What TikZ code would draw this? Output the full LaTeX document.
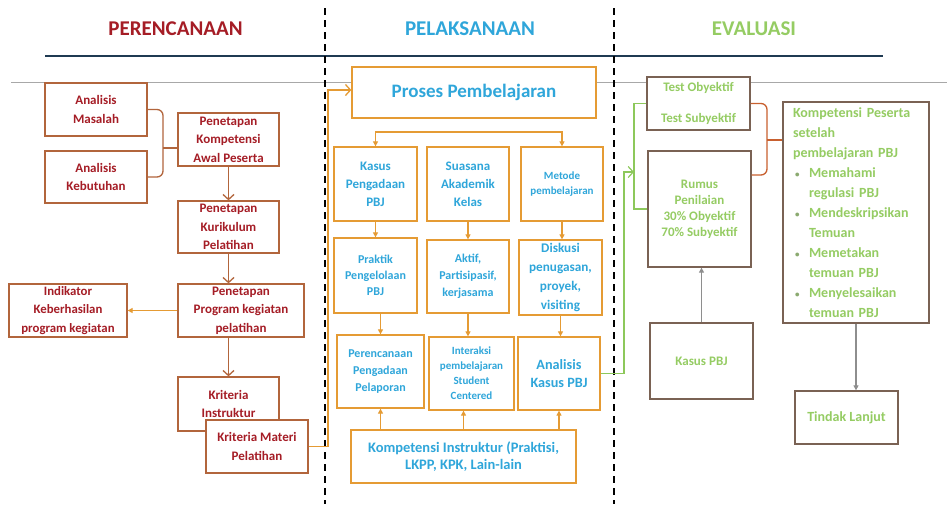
\documentclass[tikz,border=0pt]{standalone}
\usepackage{fontspec}
\setmainfont{Carlito}
\usetikzlibrary{arrows.meta,calc}
\newcommand\fsz[2]{\fontsize{#1}{#2}\selectfont\bfseries}
\newcommand\bul{\makebox[16pt][l]{\hspace{2pt}\textcolor{rtc!55!gray}{\fontsize{9}{9}\selectfont\textbullet}}}
\definecolor{lbc}{HTML}{B2653C}
\definecolor{ltc}{HTML}{A51D26}
\definecolor{obc}{HTML}{E59B34}
\definecolor{otc}{HTML}{2FA6DA}
\definecolor{rbc}{HTML}{7A6254}
\definecolor{rtc}{HTML}{95CC63}
\definecolor{grl}{HTML}{8DC85B}
\definecolor{brc}{HTML}{C8602F}
\definecolor{gra}{HTML}{8E8E8E}
\definecolor{navy}{HTML}{1F3A52}
\definecolor{lgr}{HTML}{A8A8A8}
\tikzset{
  sz/.style n args={2}{minimum width=#1pt, minimum height=#2pt},
  bx/.style={draw, fill=white, line width=1.3pt, inner sep=0pt, align=center},
  lb/.style={bx, draw=lbc, text=ltc, font=\fsz{13}{18.5}},
  ob/.style={bx, draw=obc, text=otc},
  rb/.style={bx, draw=rbc, text=rtc},
  larr/.style={draw=lbc, line width=1.3pt, -{Straight Barb[length=5pt,width=11pt]}},
  oarr/.style={draw=obc, line width=1.1pt, -{Triangle[length=5pt,width=5pt]}},
  oline/.style={draw=obc, line width=1.3pt},
  gline/.style={draw=grl, line width=1.2pt},
  garr/.style={draw=gra, line width=1.1pt, -{Triangle[length=5pt,width=5pt]}},
  ttl/.style={font=\fsz{21}{24}},
  dsh/.style={draw=black, line width=1.2pt, dash pattern=on 7pt off 5pt},
}
\begin{document}
\begin{tikzpicture}[x=1pt,y=-1pt]
\useasboundingbox (0,0) rectangle (947,504);
\fill[white] (0,0) rectangle (947,504);
% headers
\node[ttl, text=ltc] (t1) at (175.5,28.5) {PERENCANAAN};
\node[ttl, text=otc] (t2) at (470,28.5) {PELAKSANAAN};
\node[ttl, text=rtc] (t3) at (754,28.5) {EVALUASI};
\coordinate (nl1) at (45,56); \coordinate (nl2) at (883,56);
\draw[navy, line width=2pt] (nl1) -- (nl2);
\coordinate (gl1) at (11,82); \coordinate (gl2) at (947,82);
\draw[lgr, line width=1pt] (gl1) -- (gl2);
\coordinate (d1a) at (325,8); \coordinate (d1b) at (325,504);
\coordinate (d2a) at (614,8); \coordinate (d2b) at (614,504);
\draw[dsh] (d1a) -- (d1b);
\draw[dsh] (d2a) -- (d2b);

% left column
\node[lb, sz={102}{53}] (am) at (96,109.5) {Analisis\\Masalah};
\node[lb, sz={102}{52}] (ak) at (96,177) {Analisis\\Kebutuhan};
\node[lb, sz={101}{53}] (pk) at (228.5,139.5) {Penetapan\\Kompetensi\\Awal Peserta};
\node[lb, sz={101}{52}] (pku) at (228.5,227) {Penetapan\\Kurikulum\\Pelatihan};
\node[lb, sz={126}{53}] (pp) at (241,310.5) {Penetapan\\Program kegiatan\\pelatihan};
\node[lb, sz={118}{53}, font=\fsz{12.8}{18.5}] (ind) at (68,310.5) {Indikator\\Keberhasilan\\program kegiatan};
\node[lb, sz={101}{54}] (kin) at (228.5,404) {Kriteria\\Instruktur};
\node[lb, sz={102}{53}] (kma) at (257,446.5) {Kriteria Materi\\Pelatihan};

\coordinate (bl) at (163,148);
\draw[lbc, line width=1.3pt, rounded corners=6pt] (am.east) -| (bl) |- (ak.east);
\draw[lbc, line width=1.3pt] (bl) -- (bl -| pk.west);
\draw[larr] (pk.south) -- (pku.north);
\draw[larr] (pku.south) -- (pku.south |- pp.north);
\draw[larr] (kin.north |- pp.south) -- (kin.north);
\draw[draw=obc, line width=1pt, -{Triangle[length=5pt,width=5pt]}] (pp.west) -- (ind.east);

% middle column
\node[ob, sz={244}{51}, font=\fsz{19}{22}] (pr) at (474,92.5) {Proses Pembelajaran};
\node[ob, sz={83}{74}, font=\fsz{13}{18}] (kp) at (375.5,184) {Kasus\\Pengadaan\\PBJ};
\node[ob, sz={82}{74}, font=\fsz{13}{18}] (sa) at (468,184) {Suasana\\Akademik\\Kelas};
\node[ob, sz={82}{74}, font=\fsz{11}{15}] (mp) at (562,184) {Metode\\pembelajaran};
\node[ob, sz={83}{75}, font=\fsz{12}{16}] (pg) at (375.5,275.5) {Praktik\\Pengelolaan\\PBJ};
\node[ob, sz={82}{73}, font=\fsz{12}{17}] (af) at (468,276.5) {Aktif,\\Partisipasif,\\kerjasama};
\node[ob, sz={83}{75}, font=\fsz{13.2}{18.7}] (dk) at (560.5,277.5) {Diskusi\\penugasan,\\proyek,\\visiting};
\node[ob, sz={87}{73}, font=\fsz{12}{17}] (pe) at (380.5,371.5) {Perencanaan\\Pengadaan\\Pelaporan};
\node[ob, sz={85}{73}, font=\fsz{11}{15}] (ia) at (471.5,373.5) {Interaksi\\pembelajaran\\Student\\Centered};
\node[ob, sz={82}{73}, font=\fsz{14.2}{18}] (ap) at (559,373.5) {Analisis\\Kasus PBJ};
\node[ob, sz={225}{53}, font=\fsz{14.5}{17}] (ki) at (463.5,456.5) {Kompetensi Instruktur (Praktisi,\\LKPP, KPK, Lain-lain};

\coordinate (bh) at (470,132);
\draw[draw=obc, line width=1.1pt, {Triangle[length=5pt,width=5pt]}-{Triangle[length=5pt,width=5pt]}] (kp.north) |- (bh) -| (mp.north);
\draw[oarr] (kp.south) -- (pg.north);
\draw[oarr] (sa.south) -- (af.north);
\draw[oarr] (mp.south) -- (mp.south |- dk.north);
\draw[oarr] (pe.north |- pg.south) -- (pe.north);
\draw[oarr] (af.south) -- (af.south |- ia.north);
\draw[oarr] (dk.south) -- (dk.south |- ap.north);
\draw[oarr] (ki.north -| pe.south) -- (pe.south);
\draw[oarr] (ki.north) -- (ki.north |- ia.south);
\draw[oarr] (ki.north -| ap.south) -- (ap.south);

\coordinate (ox) at (328,90);
\draw[oline, -{Straight Barb[length=5pt,width=11pt]}] (kma.east) -| (ox) -- (ox -| pr.west);

% right column
\node[rb, sz={103}{53}, font=\fsz{13}{16}] (tt) at (698.5,103.5) {Test Obyektif\\[15pt]Test Subyektif};
\node[rb, sz={103}{116}, font=\fsz{13}{16}] (ru) at (699.5,209) {Rumus\\Penilaian\\30\% Obyektif\\70\% Subyektif};
\node[rb, sz={146}{221}, font=\fsz{14}{20}, text width=126pt, align=left] (kps) at (856,212.5) {Kompetensi Peserta\\setelah\\pembelajaran PBJ\\
\bul Memahami\\\hspace*{16pt}regulasi PBJ\\
\bul Mendeskripsikan\\\hspace*{16pt}Temuan\\
\bul Memetakan\\\hspace*{16pt}temuan PBJ\\
\bul Menyelesaikan\\\hspace*{16pt}temuan PBJ};
\node[rb, sz={103}{76}, font=\fsz{13}{16}] (kpb) at (701.5,361) {Kasus PBJ};
\node[rb, sz={103}{53}, font=\fsz{14}{17}] (tl) at (846.5,417.5) {Tindak Lanjut};

\coordinate (gx) at (624,172);
\coordinate (gb) at (634,172);
\draw[gline, -{Straight Barb[length=5pt,width=11pt]}] (ap.east) -| (gx) -- (gb);
\draw[gline] (tt.west) -| (gb) |- (ru.west);
\coordinate (rbr) at (767,140);
\draw[brc, line width=1.3pt, rounded corners=6pt] (tt.east) -| (rbr) |- ([yshift=34pt]ru.east);
\draw[brc, line width=1.3pt] (rbr) -- (rbr -| kps.west);
\draw[garr] (kpb.north) -- (kpb.north |- ru.south);
\draw[garr] (kps.south) -- (kps.south |- tl.north);
\end{tikzpicture}
\end{document}
